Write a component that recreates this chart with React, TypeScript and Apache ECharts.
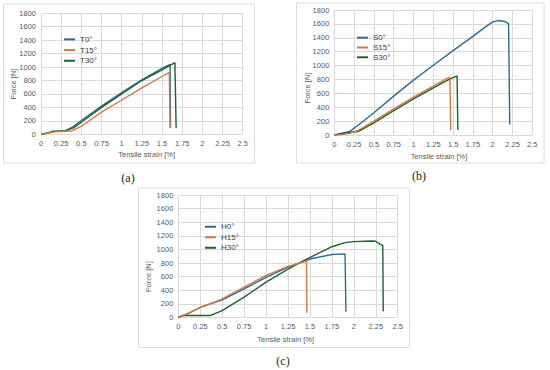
import React, { useEffect, useRef } from "react";
import * as echarts from "echarts";

// ---- data: [strain %, force N] ----
const T0 = [[0,0],[0.08,20],[0.15,42],[0.22,48],[0.3,52],[0.4,115],[0.5,205],[0.75,420],[1.0,620],[1.25,810],[1.5,980],[1.6,1040],[1.605,100]];
const T15 = [[0,0],[0.08,15],[0.15,35],[0.25,45],[0.38,50],[0.5,120],[0.75,330],[1.0,510],[1.25,690],[1.5,860],[1.59,920],[1.6,90]];
const T30 = [[0,0],[0.08,18],[0.15,45],[0.3,50],[0.4,95],[0.5,180],[0.75,400],[1.0,600],[1.25,800],[1.5,960],[1.66,1065],[1.675,90]];

const S0 = [[0,0],[0.1,20],[0.2,55],[0.3,140],[0.5,320],[0.75,560],[1.0,790],[1.25,1005],[1.5,1215],[1.75,1420],[1.9,1550],[2.0,1628],[2.07,1648],[2.15,1635],[2.2,1605],[2.215,150]];
const S15 = [[0,0],[0.1,5],[0.2,25],[0.3,65],[0.5,200],[0.75,375],[1.0,545],[1.25,705],[1.4,800],[1.46,830],[1.47,70]];
const S30 = [[0,0],[0.1,25],[0.2,40],[0.3,50],[0.5,175],[0.75,350],[1.0,520],[1.25,680],[1.45,800],[1.55,850],[1.56,72]];

const H0 = [[0,0],[0.1,50],[0.25,150],[0.4,215],[0.5,260],[0.75,420],[1.0,590],[1.25,740],[1.5,860],[1.75,925],[1.9,935],[1.91,85]];
const H15 = [[0,0],[0.1,55],[0.25,150],[0.4,220],[0.5,275],[0.75,445],[1.0,620],[1.25,750],[1.46,830],[1.465,70]];
const H30 = [[0,0],[0.05,30],[0.2,30],[0.37,30],[0.5,100],[0.75,300],[1.0,520],[1.25,710],[1.45,850],[1.75,1040],[1.9,1100],[2.0,1115],[2.2,1125],[2.25,1120],[2.3,1075],[2.33,1060],[2.335,90]];

const NAMES_A = ["T0°", "T15°", "T30°"];
const NAMES_B = ["S0°", "S15°", "S30°"];
const NAMES_C = ["H0°", "H15°", "H30°"];
const PANEL_LABELS = ["(a)", "(b)", "(c)"];
const X_TITLE = "Tensile strain [%]";
const Y_TITLE = "Force [N]";

const COLORS = ["#2E6B8C", "#D2793F", "#215E35"];
const FONT = "'Liberation Sans', Arial, sans-serif";

export default function App() {
  const ref = useRef<HTMLDivElement>(null);
  useEffect(() => {
    if (!ref.current) return;
    const chart = echarts.init(ref.current, null, { renderer: "svg" });

    const grids = [
      { left: 41, top: 13.3, width: 201.7, height: 121 },
      { left: 334.3, top: 10, width: 198, height: 125 },
      { left: 178.3, top: 195, width: 219.4, height: 122.5 },
    ];
    const label = { fontSize: 7.5, color: "#595959", margin: 5, fontFamily: FONT, formatter: (v: number) => String(v) };
    const xAx = (i: number) => ({
      type: "value", gridIndex: i, min: 0, max: 2.5, interval: 0.25,
      axisLine: { show: false }, axisTick: { show: false },
      splitLine: { show: true, lineStyle: { color: "#d9d9d9", width: 1 } },
      axisLabel: label,
    });
    const yAx = (i: number) => ({
      type: "value", gridIndex: i, min: 0, max: 1800, interval: 200,
      axisLine: { show: false }, axisTick: { show: false },
      splitLine: { show: true, lineStyle: { color: "#d9d9d9", width: 1 } },
      axisLabel: label,
    });
    const groups = [
      { names: NAMES_A, data: [T0, T15, T30] },
      { names: NAMES_B, data: [S0, S15, S30] },
      { names: NAMES_C, data: [H0, H15, H30] },
    ];
    const series: any[] = [];
    groups.forEach((g, gi) => {
      g.data.forEach((d, si) => {
        series.push({
          type: "line", name: g.names[si], xAxisIndex: gi, yAxisIndex: gi,
          data: d, symbol: "none", showSymbol: false,
          lineStyle: { width: 1.4, color: COLORS[si] },
          itemStyle: { color: COLORS[si] },
          z: si === 1 ? 3 : 2,
        });
      });
    });
    const legendPos = [
      { left: 59, top: 29, lh: 10.7 },
      { left: 352, top: 27.8, lh: 9.8 },
      { left: 200, top: 216.5, lh: 10.5 },
    ];
    const legends = groups.map((g, gi) => ({
      orient: "vertical", left: legendPos[gi].left, top: legendPos[gi].top,
      itemWidth: 11, itemHeight: 2, itemGap: 0, icon: "rect",
      textStyle: { fontSize: 8, color: "#404040", lineHeight: legendPos[gi].lh, fontFamily: FONT },
      data: g.names,
    }));

    const boxes = [
      { x: 3.5, y: 4, w: 251, h: 159 },
      { x: 296.5, y: 3, w: 247.5, h: 160 },
      { x: 138.5, y: 188, w: 271, h: 159.5 },
    ];
    const yTitles = [
      { x: 13.3, y: 84 },
      { x: 307, y: 88 },
      { x: 148.3, y: 276.7 },
    ];
    const xTitles = [
      { x: 146.7, y: 154.3 },
      { x: 439, y: 156.7 },
      { x: 285.7, y: 339.3 },
    ];
    const panelLabelPos = [
      { x: 128, y: 178 },
      { x: 419, y: 176 },
      { x: 283, y: 360.5 },
    ];
    const graphic: any[] = [];
    boxes.forEach((b) => graphic.push({
      type: "rect", shape: { x: b.x, y: b.y, width: b.w, height: b.h },
      style: { fill: "none", stroke: "#dcdcdc", lineWidth: 1 }, silent: true, z: -1,
    }));
    yTitles.forEach((p) => graphic.push({
      type: "text", x: p.x, y: p.y, rotation: Math.PI / 2,
      style: { text: Y_TITLE, fontSize: 7.5, fill: "#595959", align: "center", verticalAlign: "middle", fontFamily: FONT },
    }));
    xTitles.forEach((p) => graphic.push({
      type: "text", x: p.x, y: p.y,
      style: { text: X_TITLE, fontSize: 7.5, fill: "#595959", align: "center", verticalAlign: "middle", fontFamily: FONT },
    }));
    panelLabelPos.forEach((p, i) => graphic.push({
      type: "text", x: p.x, y: p.y,
      style: { text: PANEL_LABELS[i], fontSize: 12, fill: "#222", align: "center", verticalAlign: "middle", fontFamily: "'Liberation Serif', 'Times New Roman', serif" },
    }));

    chart.setOption({
      animation: false,
      backgroundColor: "#ffffff",
      grid: grids.map((g) => ({ ...g, containLabel: false })),
      xAxis: [0, 1, 2].map(xAx),
      yAxis: [0, 1, 2].map(yAx),
      legend: legends,
      series,
      graphic,
    } as any);
    return () => chart.dispose();
  }, []);
  return (
    <div
      ref={ref}
      style={{ position: "fixed", left: 0, top: 0, width: 550, height: 370, background: "#fff" }}
    />
  );
}
